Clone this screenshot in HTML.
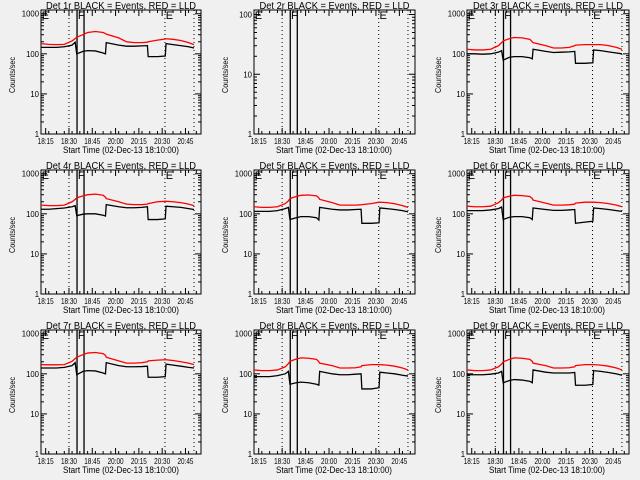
<!DOCTYPE html>
<html><head><meta charset="utf-8"><style>
html,body{margin:0;padding:0;background:#f0f0f0;}
svg{display:block;font-family:"Liberation Sans",sans-serif;}
</style></head><body>
<svg id="chart" width="640" height="480" viewBox="0 0 640 480"></svg>
<script>
// shared sample times (minutes after axis start 18:12)
const times=[0,5,10,15,20,22,23,27,30,35,40,41.5,42,50,55,60,65,68.5,69,75,80,80.5,85,90,95,98.5];
const detNames=["1r","2r","3r","4r","5r","6r","7r","8r","9r"];
const xTickLabels=["18:15","18:30","18:45","20:00","20:15","20:30","20:45"];
const xTickMinutes=[3,18,33,48,63,78,93];
const dottedMarks=[18,79.8,98.5];
const solidMarks=[23.2,27.7];
const markLetters=[["E",0.5],["F",23.7],["E",80.3]];
const black1=[145,145,145,150,165,195,100,115,120,118,105,100,190,165,155,155,158,160,85,85,88,180,170,160,150,140];
const red1=[180,172,170,172,210,240,260,300,340,360,340,320,310,250,200,190,190,195,200,220,235,238,230,215,190,170];
const black3=[100,100,98,100,110,120,70,82,85,85,80,75,130,115,108,110,112,115,58,58,60,125,120,112,105,100];
const red3=[130,125,125,130,160,190,210,240,255,250,230,200,190,160,140,140,145,160,165,170,170,170,170,160,145,130];
const black4=[130,130,135,140,150,160,90,98,100,100,92,88,170,150,142,142,145,150,72,72,75,155,150,145,135,128];
const red4=[165,160,160,165,200,230,250,280,300,310,290,260,240,200,175,170,170,175,180,200,205,205,200,190,175,160];
const black5=[115,115,115,120,135,145,72,80,85,85,80,70,145,130,125,125,128,130,58,58,60,140,135,128,120,112];
const red5=[150,145,145,150,180,210,240,270,290,295,280,250,230,190,165,165,165,168,170,180,195,195,190,178,160,145];
const black6=[120,120,120,125,135,148,72,82,85,85,80,72,140,128,122,122,125,128,58,62,65,140,135,128,120,115];
const red6=[155,150,150,155,190,220,250,275,290,285,270,240,220,185,165,165,168,175,185,195,195,195,190,180,165,150];
const black7=[140,140,140,145,160,190,95,115,120,118,105,100,190,160,150,150,152,155,82,82,85,175,165,155,145,140];
const red7=[170,168,168,170,205,240,260,300,330,340,320,290,260,210,185,185,190,200,210,220,225,225,215,200,185,170];
const black8=[85,85,85,90,100,115,55,60,62,60,55,52,115,100,95,95,98,100,42,42,45,110,105,100,92,88];
const red8=[125,120,120,125,150,180,205,235,250,245,230,200,185,160,140,140,142,150,160,170,170,170,165,155,140,125];
const black9=[95,95,95,98,105,115,60,68,72,70,65,60,125,110,105,105,105,108,52,52,54,120,115,108,100,92];
const red9=[125,120,120,125,150,175,200,230,250,245,230,205,185,160,140,140,142,150,160,170,170,170,165,155,140,125];
const blackSeries=[black1,null,black3,black4,black5,black6,black7,black8,black9];
const redSeries=[red1,null,red3,red4,red5,red6,red7,red8,red9];

const NS="http://www.w3.org/2000/svg";
const svg=document.getElementById('chart');
function mk(tag,attrs,parent){const e=document.createElementNS(NS,tag);for(const k in attrs)e.setAttribute(k,attrs[k]);(parent||svg).appendChild(e);return e;}
const colLeft=[41,254,467], colW=[160,161,162];
const T0=0,T1=103;
for(let p=0;p<9;p++){
  const r=Math.floor(p/3),c=p%3;
  const oy=r*160;
  const L=colLeft[c],W=colW[c],top=oy+10,bot=oy+134;
  const maxDec=(p===1)?Math.log10(119):Math.log10(1240);
  const xs=m=>L+(m-T0)/(T1-T0)*W;
  const ys=v=>bot-(Math.log10(v)/maxDec)*(bot-top);
  const g=mk('g',{});
  
  
  const t=mk('text',{x:L+W/2-75,y:oy+9,'font-size':'10',textLength:150,lengthAdjust:'spacingAndGlyphs'},g);
  t.textContent='Det '+detNames[p]+' BLACK = Events, RED = LLD';
  
  
  const box=mk('rect',{x:L,y:top,width:W,height:bot-top,fill:'none',stroke:'#000','stroke-width':1},g);
  
  
  const decs=(p===1)?[1,10,100]:[1,10,100,1000];
  decs.forEach(d=>{
    const y=ys(d);
    mk('line',{x1:L,x2:L+6,y1:y,y2:y,stroke:'#000'},g);
    mk('line',{x1:L+W,x2:L+W-6,y1:y,y2:y,stroke:'#000'},g);
    const s=String(d);
    const lb=mk('text',{x:L-2-s.length*4.3,y:y+3,'font-size':'8',textLength:s.length*4.3,lengthAdjust:'spacingAndGlyphs'},g);
    lb.textContent=s;
    
    
    for(let k=2;k<=9;k++){const v=d*k;if(Math.log10(v)>maxDec)break;const yy=ys(v);
      mk('line',{x1:L,x2:L+3,y1:yy,y2:yy,stroke:'#000'},g);
      mk('line',{x1:L+W,x2:L+W-3,y1:yy,y2:yy,stroke:'#000'},g);}
  });
  xTickMinutes.forEach((m,i)=>{
    const x=xs(m);
    mk('line',{x1:x,x2:x,y1:bot,y2:bot-6,stroke:'#000'},g);
    mk('line',{x1:x,x2:x,y1:top,y2:top+6,stroke:'#000'},g);
    const lb=mk('text',{x:x-8,y:oy+144,'font-size':'8',textLength:16,lengthAdjust:'spacingAndGlyphs'},g);
    lb.textContent=xTickLabels[i];
    
    
  });
  for(let m=0;m<=T1;m+=5){const x=xs(m);mk('line',{x1:x,x2:x,y1:bot,y2:bot-3,stroke:'#000'},g);mk('line',{x1:x,x2:x,y1:top,y2:top+3,stroke:'#000'},g);}
  const xt=mk('text',{x:L+22,y:oy+153,'font-size':'9',textLength:116,lengthAdjust:'spacingAndGlyphs'},g);
  xt.textContent='Start Time (02-Dec-13 18:10:00)';
  
  
  const yt=mk('text',{x:-18,y:0,'font-size':'8',textLength:36,lengthAdjust:'spacingAndGlyphs',transform:`translate(${L-26},${oy+75}) rotate(-90)`},g);
  yt.textContent='Counts/sec';
  
  
  dottedMarks.forEach(m=>{const ln=mk('line',{x1:xs(m),x2:xs(m),y1:top,y2:bot,stroke:'#000','stroke-dasharray':'1,3'},g);
    });
  solidMarks.forEach(m=>{const ln=mk('line',{x1:xs(m),x2:xs(m),y1:top,y2:bot,stroke:'#000','stroke-width':1.3},g);
    });
  markLetters.forEach(([s,m])=>{const tx=mk('text',{x:xs(m),y:top+9,'font-size':'11'},g);tx.textContent=s;
    });
  const bl=blackSeries[p], rd=redSeries[p];
  if(rd){const pl=mk('polyline',{points:times.map((m,i)=>xs(m)+','+ys(rd[i])).join(' '),fill:'none',stroke:'#ff0000','stroke-width':1.3},g);
    }
  if(bl){const pl=mk('polyline',{points:times.map((m,i)=>xs(m)+','+ys(bl[i])).join(' '),fill:'none',stroke:'#000','stroke-width':1.3},g);
    }
}
</script>
</body></html>
